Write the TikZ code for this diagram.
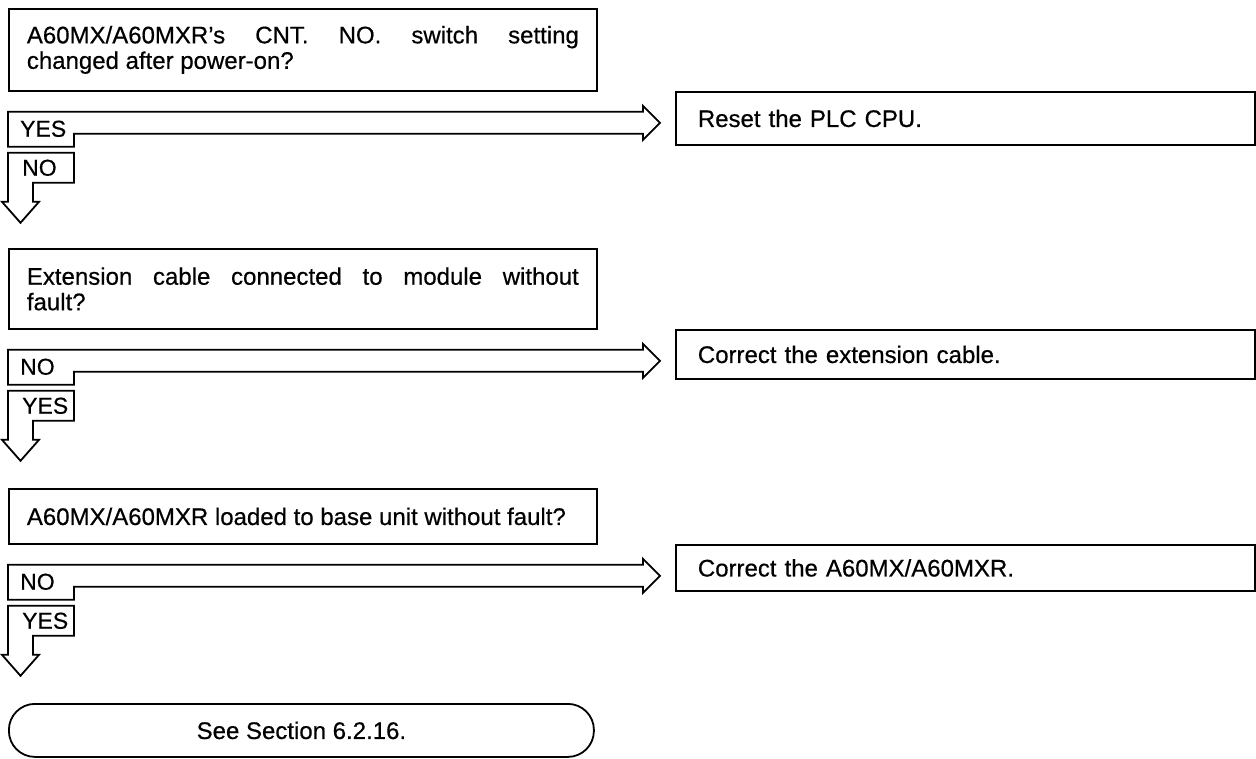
\documentclass[tikz,border=0pt]{standalone}
\usepackage{fontspec}
\setmainfont{Liberation Sans}[FakeBold=0.5]
\usetikzlibrary{calc}

\begin{document}
\begin{tikzpicture}[
    x=1pt, y=-1pt,
    outl/.style={line width=1.8pt, black, line join=miter},
    qbox/.style={outl, draw, anchor=north west, minimum width=588pt,
      text width=552pt, align=justify, inner xsep=18pt,
      font=\fontsize{24}{25.5}\selectfont},
    abox/.style={outl, draw, anchor=north west, minimum width=579pt,
      text width=535pt, align=left, inner xsep=22pt,
      font=\fontsize{24}{26}\selectfont},
    term/.style={outl, draw, anchor=north west, minimum width=585pt,
      minimum height=53pt, rounded corners=26pt,
      font=\fontsize{24}{26}\selectfont},
    lbl/.style={anchor=west, inner sep=1pt, font=\fontsize{23}{24}\selectfont}
  ]
  \useasboundingbox (0,0) rectangle (1256,758);

  % Questions
  \node[qbox, minimum height=82pt] (q1) at (8,8)
    {A60MX/A60MXR's CNT. NO. switch setting\linebreak changed after power-on?};
  \node[qbox, minimum height=80pt] (q2) at (8,248)
    {Extension cable connected to module without\linebreak fault?};
  \node[qbox, minimum height=55pt] (q3) at (8,488)
    {A60MX/A60MXR loaded to base unit without fault?};

  % Actions
  \node[abox, minimum height=53pt] (r1) at (675,91) {Reset the PLC CPU.};
  \node[abox, minimum height=49pt] (r2) at (675,329) {Correct the extension cable.};
  \node[abox, minimum height=46pt] (r3) at (675,544) {Correct the A60MX/A60MXR.};

  % End
  \node[term] (see) at (8,703) {See Section 6.2.16.};

  % Branch arrows
  \foreach \q/\r/\s/\d in {q1/r1/YES/NO, q2/r2/NO/YES, q3/r3/NO/YES}{
    \coordinate (\q-b) at ($(\q.south west)+(0,20)$);
    \draw[outl] (\q-b) -- ($(\q-b -| \r.west)+(-32,0)$) -- ++(0,-6)
      -- ++(17,17) -- ++(-17,17) -- ++(0,-6) -- ($(\q-b)+(66,22)$)
      -- ++(0,13) -- ++(-66,0) -- cycle;
    \draw[outl] ($(\q-b)+(0,41)$) -- ++(66,0) -- ++(0,30) -- ++(-41,0)
      -- ++(0,19) -- ++(6,0) -- ++(-18.5,21) -- ++(-18.5,-21) -- ++(6,0) -- cycle;
    \node[lbl] (\q-side) at ($(\q-b)+(11,17)$) {\s};
    \node[lbl] (\q-down) at ($(\q-b)+(13,56)$) {\d};
  }
\end{tikzpicture}
\end{document}
